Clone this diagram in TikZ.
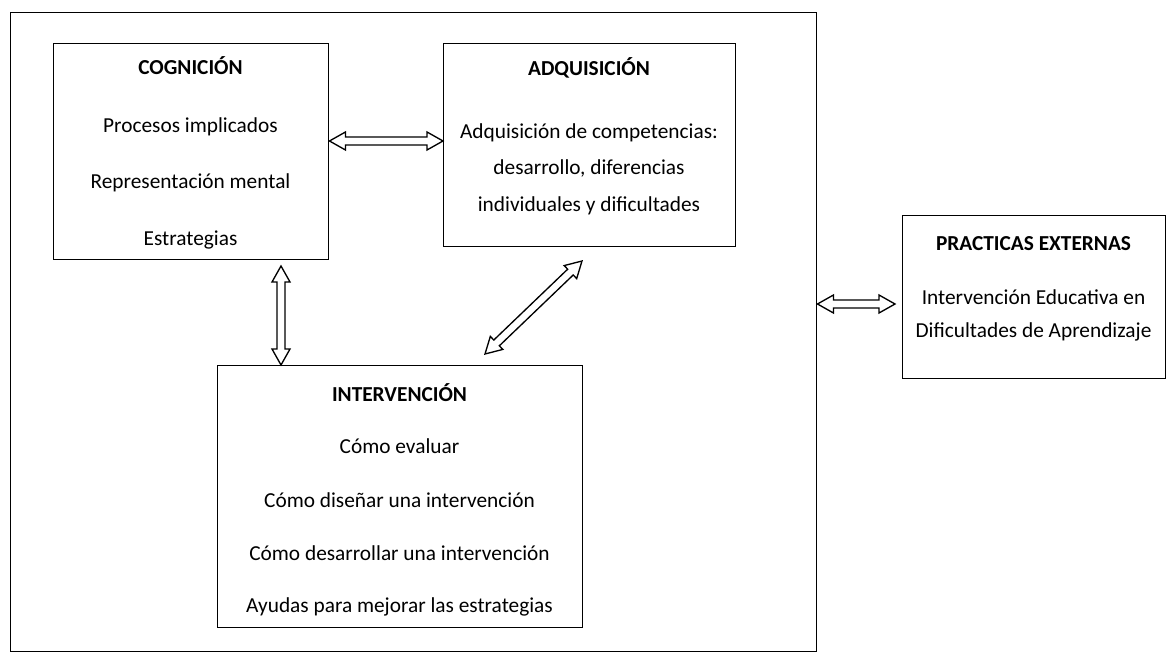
\documentclass[tikz,border=0pt]{standalone}
\usepackage{fontspec}
\setmainfont{Carlito}
\usetikzlibrary{calc}
\def\ahl{12pt}
\def\ahw{6.75pt}
\def\asw{3pt}
\newcommand\mkbox[5]{\node[box, minimum width={(#4-#2)*0.75pt}, minimum height={(#5-#3)*0.75pt}] (#1) at (#2,#3) {};}
\newcommand\dblarrow[2]{%
\draw[blockarr] (#1)
 -- ($(#1)!\ahl!(#2)!\ahw!90:(#2)$)
 -- ($(#1)!\ahl!(#2)!\asw!90:(#2)$)
 -- ($(#2)!\ahl!(#1)!\asw!-90:(#1)$)
 -- ($(#2)!\ahl!(#1)!\ahw!-90:(#1)$)
 -- (#2)
 -- ($(#2)!\ahl!(#1)!\ahw!90:(#1)$)
 -- ($(#2)!\ahl!(#1)!\asw!90:(#1)$)
 -- ($(#1)!\ahl!(#2)!\asw!-90:(#2)$)
 -- ($(#1)!\ahl!(#2)!\ahw!-90:(#2)$)
 -- cycle;}
\tikzset{
 box/.style={draw, line width=1.1pt, inner sep=0pt, anchor=north west},
 blockarr/.style={draw, fill=white, line width=1pt, line join=miter},
 txt/.style={anchor=base, inner sep=0pt, font=\fontsize{16pt}{19pt}\selectfont},
 ttl/.style={txt, font=\fontsize{16pt}{19pt}\selectfont\bfseries},
}
\begin{document}
\begin{tikzpicture}[x=0.75pt,y=-0.75pt]
\useasboundingbox (0,0) rectangle (1171,666);
\mkbox{frame}{10}{12}{816}{651}
\mkbox{cog}{53}{43}{328}{259}
\mkbox{adq}{443}{43}{735}{246}
\mkbox{int}{217}{365}{582}{627}
\mkbox{prac}{902}{215}{1165}{378}
% Cognicion
\node[ttl] (cogt) at (190.5,75) {COGNICIÓN};
\node[txt] (cog1) at (190.5,133) {Procesos implicados};
\node[txt] (cog2) at (190.5,189) {Representación mental};
\node[txt] (cog3) at (190.5,246) {Estrategias};
% Adquisicion
\node[ttl] (adqt) at (589,76) {ADQUISICIÓN};
\node[txt] (adq1) at (589,139) {Adquisición de competencias:};
\node[txt] (adq2) at (589,175) {desarrollo, diferencias};
\node[txt] (adq3) at (589,212) {individuales y dificultades};
% Intervencion
\node[ttl] (intt) at (399.5,402) {INTERVENCIÓN};
\node[txt] (int1) at (399.5,454) {Cómo evaluar};
\node[txt] (int2) at (399.5,507) {Cómo diseñar una intervención};
\node[txt] (int3) at (399.5,560) {Cómo desarrollar una intervención};
\node[txt] (int4) at (399.5,612) {Ayudas para mejorar las estrategias};
% Practicas
\node[ttl] (pract) at (1033.5,251) {PRACTICAS EXTERNAS};
\node[txt] (prac1) at (1033.5,305) {Intervención Educativa en};
\node[txt] (prac2) at (1033.5,338) {Dificultades de Aprendizaje};
% arrows
\coordinate (h1a) at (cog.east |- 0,141);
\coordinate (h1b) at (adq.west |- 0,141);
\coordinate (v1a) at (281,266);
\coordinate (v1b) at (int.north -| 281,0);
\coordinate (d1a) at (582,261);
\coordinate (d1b) at (485,354);
\coordinate (r1a) at (frame.east |- 0,304);
\coordinate (r1b) at (895,304);
\dblarrow{h1a}{h1b}
\dblarrow{v1a}{v1b}
\dblarrow{d1a}{d1b}
\dblarrow{r1a}{r1b}
\end{tikzpicture}
\end{document}
